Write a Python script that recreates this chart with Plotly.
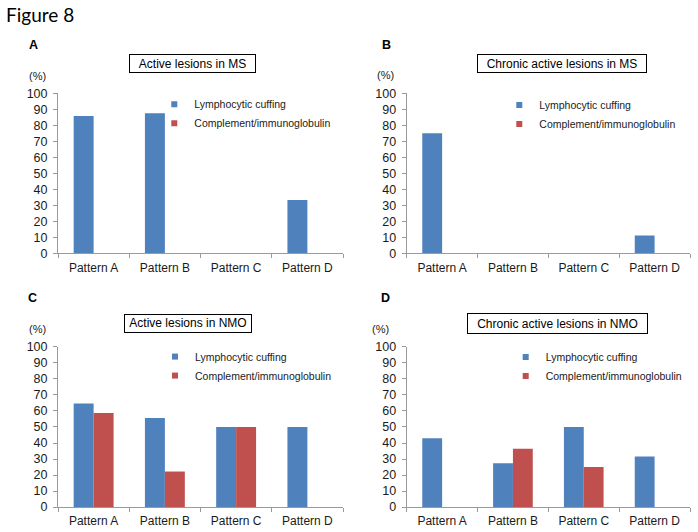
import plotly.graph_objects as go

# ---------------- data ----------------
categories = ["Pattern A", "Pattern B", "Pattern C", "Pattern D"]
series_names = ["Lymphocytic cuffing", "Complement/immunoglobulin"]
y_tick_values = [0, 10, 20, 30, 40, 50, 60, 70, 80, 90, 100]

a_lymph = [85.7, 87.5, 0, 33.3]
a_comp = [0, 0, 0, 0]
b_lymph = [75.0, 0, 0, 11.1]
b_comp = [0, 0, 0, 0]
c_lymph = [64.7, 55.6, 50.0, 50.0]
c_comp = [58.8, 22.2, 50.0, 0]
d_lymph = [42.9, 27.3, 50.0, 31.6]
d_comp = [0, 36.4, 25.0, 0]

panel_letters = ["A", "B", "C", "D"]
panel_titles = ["Active lesions in MS", "Chronic active lesions in MS",
                "Active lesions in NMO", "Chronic active lesions in NMO"]
figure_title = "Figure 8"
unit_label = "(%)"

# ---------------- layout helpers ----------------
W, H = 698, 532
BLUE = "#4F81BD"
RED = "#C0504D"
AXIS_GRAY = "#9A9A9A"
TEXT = "#1a1a1a"
FONT = "Liberation Sans, Arial, sans-serif"

# vertical compensation for the capture (observed affine squeeze)
V_OFF, V_SCALE = 7.27, 0.9724


def tr(p):
    return (p - V_OFF) / V_SCALE


def fx(p):
    return p / W


def fy(p):
    return 1 - tr(p) / H


# pixel geometry of each panel (reference pixel positions)
panels = [
    dict(x=(58, 343), y=(93.3, 253.3), letter=(33, 45), unit=(37.5, 76),
         title=(192.3, 63.5, 125, 17), legend=(154.3, 104.3)),
    dict(x=(406.7, 690), y=(93.3, 253.3), letter=(386, 45.5), unit=(385.5, 75.5),
         title=(561.7, 63.8, 168, 17), legend=(499.3, 105.0)),
    dict(x=(58, 343), y=(346.7, 506.7), letter=(32, 298), unit=(37.5, 329.3),
         title=(188.3, 323.3, 126, 16.5), legend=(155, 356.3)),
    dict(x=(406.7, 690), y=(346.7, 506.7), letter=(385, 297.7), unit=(380, 329),
         title=(557.5, 323, 179, 18.5), legend=(505.7, 356.7)),
]

data_sets = [(a_lymph, a_comp), (b_lymph, b_comp), (c_lymph, c_comp), (d_lymph, d_comp)]

fig = go.Figure()
layout = dict(
    width=W, height=H, autosize=False,
    margin=dict(l=0, r=0, t=0, b=0, pad=0),
    paper_bgcolor="white", plot_bgcolor="white",
    barmode="group", bargap=0.44, bargroupgap=0,
    font=dict(family=FONT, color=TEXT),
)
annotations = []

for i, (p, (lymph, comp)) in enumerate(zip(panels, data_sets)):
    n = "" if i == 0 else str(i + 1)
    xa, ya = "x" + n, "y" + n
    leg = "legend" + n
    for vals, name, color in ((lymph, series_names[0], BLUE), (comp, series_names[1], RED)):
        fig.add_trace(go.Bar(x=categories, y=vals, name=name,
                             marker=dict(color=color, line=dict(width=0)),
                             xaxis=xa, yaxis=ya, showlegend=False))
    for name, color in ((series_names[0], BLUE), (series_names[1], RED)):
        fig.add_trace(go.Scatter(x=[None], y=[None], mode="markers", name=name,
                                 marker=dict(symbol="square", size=6, color=color),
                                 xaxis=xa, yaxis=ya, legend=leg, showlegend=True))
    layout["xaxis" + n] = dict(
        domain=[fx(p["x"][0]), fx(p["x"][1])], anchor=ya,
        type="category", categoryorder="array", categoryarray=categories,
        showline=True, linecolor=AXIS_GRAY, linewidth=1,
        ticks="outside", tickson="boundaries", ticklen=4, tickcolor=AXIS_GRAY,
        showgrid=False, zeroline=False, fixedrange=True,
        ticklabelstandoff=3,
        tickfont=dict(size=12, color=TEXT),
    )
    layout["yaxis" + n] = dict(
        domain=[fy(p["y"][1]), fy(p["y"][0])], anchor=xa,
        range=[0, 100], tickvals=y_tick_values,
        showline=True, linecolor=AXIS_GRAY, linewidth=1,
        ticks="outside", ticklen=4, tickcolor=AXIS_GRAY,
        showgrid=False, zeroline=False, fixedrange=True,
        ticklabelstandoff=3,
        tickfont=dict(size=12.5, color=TEXT),
    )
    lx, lc = p["legend"]
    layout[leg] = dict(
        x=fx(lx), y=1 - (tr(lc) - 14.8) / H, xanchor="left", yanchor="top",
        bgcolor="rgba(0,0,0,0)", borderwidth=0, tracegroupgap=0,
        font=dict(size=10.5, color=TEXT), itemwidth=30,
    )
    annotations.append(dict(text="<b>%s</b>" % panel_letters[i], x=fx(p["letter"][0]), y=fy(p["letter"][1]),
                            xref="paper", yref="paper", xanchor="center", yanchor="middle",
                            showarrow=False, font=dict(size=12.5, color="black")))
    annotations.append(dict(text=unit_label, x=fx(p["unit"][0]), y=fy(p["unit"][1]),
                            xref="paper", yref="paper", xanchor="center", yanchor="middle",
                            showarrow=False, font=dict(size=11, color=TEXT)))
    tx, ty, tw, th = p["title"]
    annotations.append(dict(text=panel_titles[i], x=fx(tx), y=fy(ty),
                            xref="paper", yref="paper", xanchor="center", yanchor="middle",
                            width=tw, height=th / V_SCALE, borderpad=0, borderwidth=1, bordercolor="black",
                            bgcolor="white", showarrow=False, align="center",
                            font=dict(size=12, color="black")))

annotations.append(dict(text=figure_title, x=fx(4), y=fy(15), xref="paper", yref="paper",
                        xanchor="left", yanchor="middle", showarrow=False,
                        font=dict(family="Lato, Carlito, sans-serif", size=19, color="black")))
layout["annotations"] = annotations
fig.update_layout(**layout)

page_fix = (
    "var h=document.documentElement.style;h.margin='0';h.padding='0';h.overflow='hidden';"
    "var b=document.body.style;b.margin='0';b.padding='0';b.overflow='hidden';"
)
fig.write_html("out.html", config={"displayModeBar": False, "staticPlot": True}, post_script=page_fix)
